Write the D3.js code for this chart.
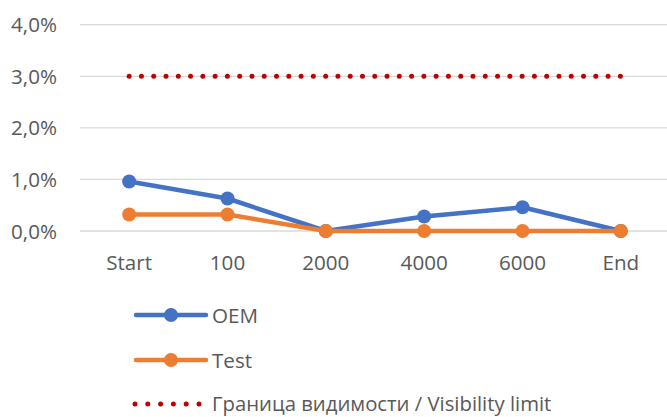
<!DOCTYPE html>
<html>
<head>
<meta charset="utf-8">
<script src="https://cdn.jsdelivr.net/npm/d3@7"></script>
<style>
    body { margin: 0; background: #fff; }
    text { font-family: "Open Sans", sans-serif; fill: #595959; font-size: 20.6px; }
</style>
</head>
<body>
<div id="chart"></div>
<script>
const categories = ["Start", "100", "2000", "4000", "6000", "End"];
const oemValues = [0.0096, 0.0063, 0.0, 0.0028, 0.0046, 0.0];
const testValues = [0.0032, 0.0032, 0.0, 0.0, 0.0, 0.0];
const limitValues = [0.03, 0.03, 0.03, 0.03, 0.03, 0.03];
const yTicks = [0, 0.01, 0.02, 0.03, 0.04];
const legendLabels = ["OEM", "Test", "Граница видимости / Visibility limit"];

const width = 667, height = 417;

const svg = d3.select("#chart").append("svg")
    .attr("width", width)
    .attr("height", height);

const x = d3.scaleBand()
    .domain(categories)
    .range([80, 670]);

const y = d3.scaleLinear()
    .domain([0, 0.04])
    .range([231, 24.7]);

const cx = d => x(d) + x.bandwidth() / 2;
const fmt = v => d3.format(".1f")(v * 100).replace(".", ",") + "%";

// gridlines
svg.append("g")
    .selectAll("line")
    .data(yTicks)
    .enter().append("line")
    .attr("x1", 80)
    .attr("x2", 670)
    .attr("y1", d => y(d))
    .attr("y2", d => y(d))
    .attr("stroke", "#d9d9d9")
    .attr("stroke-width", 1.3);

// y labels
svg.append("g")
    .selectAll("text")
    .data(yTicks)
    .enter().append("text")
    .attr("x", 57)
    .attr("y", d => y(d) + 7.5)
    .attr("text-anchor", "end")
    .text(fmt);

// x labels
svg.append("g")
    .selectAll("text")
    .data(categories)
    .enter().append("text")
    .attr("x", d => cx(d))
    .attr("y", 270)
    .attr("text-anchor", "middle")
    .text(d => d);

const line = d3.line()
    .x((d, i) => cx(categories[i]))
    .y(d => y(d));

// visibility limit
svg.append("path")
    .datum(limitValues)
    .attr("d", line)
    .attr("fill", "none")
    .attr("stroke", "#c00000")
    .attr("stroke-width", 5)
    .attr("stroke-linecap", "round")
    .attr("stroke-dasharray", "0 12.28");

const series = [
    { name: "OEM", values: oemValues, color: "#4472c4" },
    { name: "Test", values: testValues, color: "#ed7d31" }
];

series.forEach(s => {
    svg.append("path")
        .datum(s.values)
        .attr("d", line)
        .attr("fill", "none")
        .attr("stroke", s.color)
        .attr("stroke-width", 4.5)
        .attr("stroke-linejoin", "round");

    svg.append("g")
        .selectAll("circle")
        .data(s.values)
        .enter().append("circle")
        .attr("cx", (d, i) => cx(categories[i]))
        .attr("cy", d => y(d))
        .attr("r", 7)
        .attr("fill", s.color);
});

// legend
const legendY = [315, 360, 404];
series.forEach((s, i) => {
    svg.append("line")
        .attr("x1", 136).attr("x2", 206)
        .attr("y1", legendY[i]).attr("y2", legendY[i])
        .attr("stroke", s.color)
        .attr("stroke-width", 4.5)
        .attr("stroke-linecap", "round");
    svg.append("circle")
        .attr("cx", 171).attr("cy", legendY[i])
        .attr("r", 7)
        .attr("fill", s.color);
    svg.append("text")
        .attr("x", 212).attr("y", legendY[i] + 7.7)
        .text(legendLabels[i]);
});

svg.append("line")
    .attr("x1", 135).attr("x2", 200)
    .attr("y1", legendY[2]).attr("y2", legendY[2])
    .attr("stroke", "#c00000")
    .attr("stroke-width", 5)
    .attr("stroke-linecap", "round")
    .attr("stroke-dasharray", "0 12.8");

svg.append("text")
    .attr("x", 212).attr("y", legendY[2] + 7)
    .style("font-size", "20.3px")
    .text(legendLabels[2]);
</script>
</body>
</html>
